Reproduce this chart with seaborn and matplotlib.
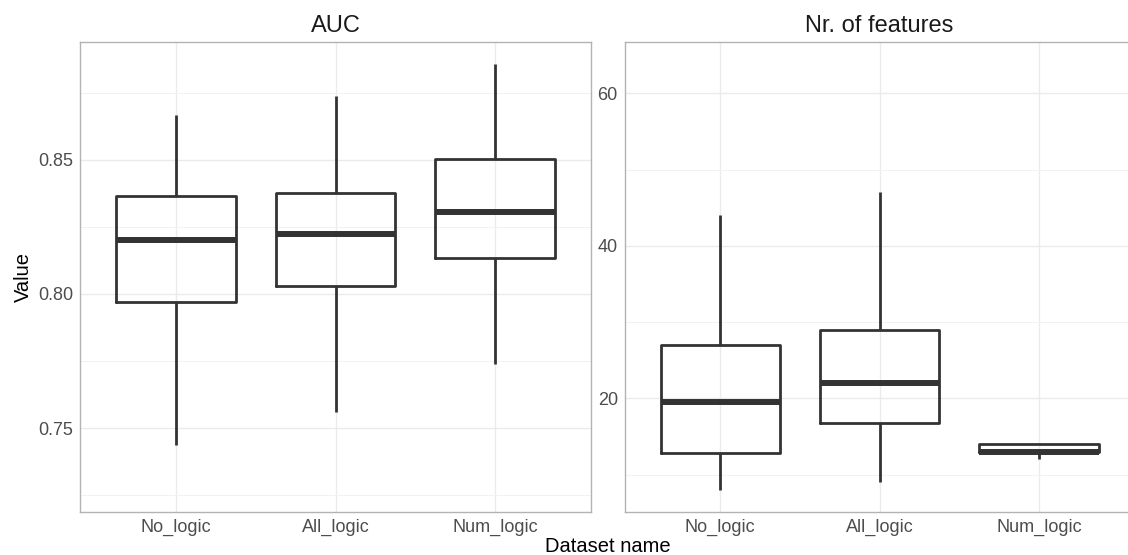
import matplotlib.pyplot as plt
import pandas as pd
import seaborn as sns
from matplotlib.ticker import FormatStrFormatter, MultipleLocator

datasets = ["No_logic", "All_logic", "Num_logic"]

# five-number summaries: min, q1, median, q3, max
auc_no_logic = [0.7436, 0.797, 0.8202, 0.8363, 0.8665]
auc_all_logic = [0.756, 0.803, 0.8224, 0.8376, 0.8738]
auc_num_logic = [0.7738, 0.8132, 0.8306, 0.8501, 0.8858]

feat_no_logic = [8, 12.8, 19.5, 27, 44]
feat_all_logic = [9, 16.7, 22, 29, 47]
feat_num_logic = [12, 13, 13, 14, 14]

auc_limits = (0.7188, 0.894)
feat_limits = (5.13, 66.77)


def long_frame(values_per_dataset):

    rows = []
    for name, values in zip(datasets, values_per_dataset):
        for v in values:
            rows.append({"Dataset name": name, "Value": v})

    return pd.DataFrame(rows)


auc_df = long_frame([auc_no_logic, auc_all_logic, auc_num_logic])
feat_df = long_frame([feat_no_logic, feat_all_logic, feat_num_logic])

sns.set_theme(style="white")
plt.rcParams["font.family"] = ["Liberation Sans", "DejaVu Sans"]

W, H = 1128, 555
fig = plt.figure(figsize=(W / 100, H / 100), dpi=100)

ax_auc = fig.add_axes([80.3 / W, 1 - 511.7 / H, 510.4 / W, 470.0 / H])
ax_feat = fig.add_axes([624.7 / W, 1 - 511.7 / H, 509.8 / W, 470.0 / H])

panels = [
    (ax_auc, auc_df, "AUC", auc_limits, 0.05, 0.025, "%.2f"),
    (ax_feat, feat_df, "Nr. of features", feat_limits, 20, 10, "%d"),
]

for ax, df, title, limits, major, minor, fmt in panels:

    sns.boxplot(
        data=df, x="Dataset name", y="Value", order=datasets, ax=ax,
        fill=False, color="#333333", linecolor="#333333", linewidth=2.0,
        width=0.75, whis=(0, 100), showcaps=False,
        medianprops={"linewidth": 4.3, "color": "#333333"},
    )

    ax.set_xlim(-0.6, 2.6)
    ax.set_ylim(*limits)
    ax.yaxis.set_major_locator(MultipleLocator(major))
    ax.yaxis.set_minor_locator(MultipleLocator(minor))
    ax.yaxis.set_major_formatter(FormatStrFormatter(fmt))

    ax.set_axisbelow(True)
    ax.grid(True, which="major", color="#EBEBEB", linewidth=1.0)
    ax.grid(True, which="minor", axis="y", color="#F2F2F2", linewidth=0.7)

    for spine in ax.spines.values():
        spine.set_visible(True)
        spine.set_color("#B3B3B3")
        spine.set_linewidth(1.0)

    ax.tick_params(axis="both", which="both", length=0, labelsize=13, labelcolor="#4D4D4D")
    ax.tick_params(axis="x", pad=5)
    ax.tick_params(axis="y", pad=5)

    ax.set_xlabel("")
    ax.set_ylabel("")
    ax.set_title(title, fontsize=17, color="#1A1A1A", pad=7)

fig.text(23 / W, 1 - 276.7 / H, "Value", rotation=90, ha="center", va="center",
         fontsize=14.5, color="black")
fig.text(607.4 / W, 1 - 546 / H, "Dataset name", ha="center", va="center",
         fontsize=14.5, color="black")

fig.savefig("out.png", dpi=100)
